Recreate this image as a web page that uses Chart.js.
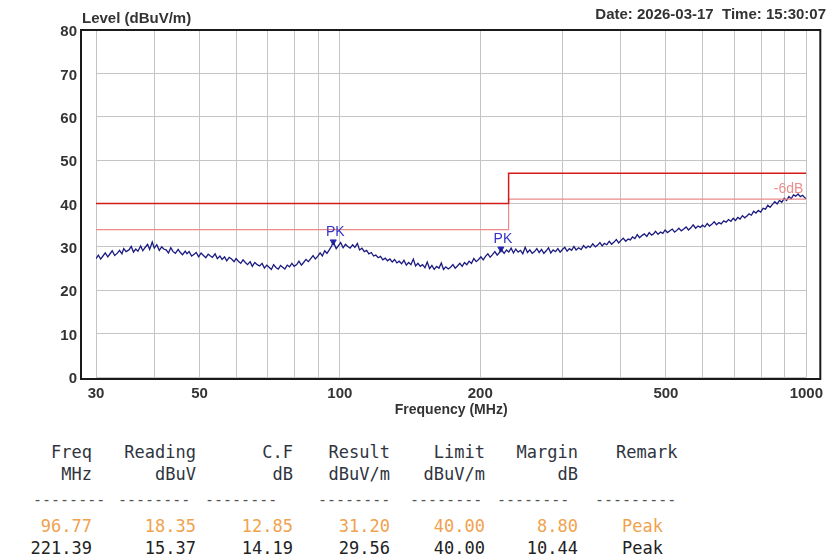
<!DOCTYPE html>
<html>
<head>
<meta charset="utf-8">
<title>Radiated emission scan</title>
<script src="https://cdn.jsdelivr.net/npm/chart.js@4.4.1/dist/chart.umd.min.js"></script>
<style>
  body { margin: 0; background: #fff; width: 831px; height: 560px; position: relative; overflow: hidden;
         font-family: "Liberation Sans", Arial, sans-serif; }
  #wrap { position: absolute; left: 0; top: 0; width: 831px; height: 420px; }
  .hdr { position: absolute; font-weight: bold; font-size: 15px; line-height: 18px; color: #333; white-space: pre; }
  .cell { position: absolute; font-family: "DejaVu Sans Mono", monospace; font-size: 17px; line-height: 20px; white-space: pre; }
  .dash { font-size: 15px; }
</style>
</head>
<body>
<div id="wrap"><canvas id="scanChart" width="831" height="420"></canvas></div>
<div class="hdr" style="left:82px; top:9px;">Level (dBuV/m)</div>
<div class="hdr" style="right:5px; top:5px;">Date: 2026-03-17  Time: 15:30:07</div>
<div id="table"></div>
<script>
// sweep frequencies (MHz) and measured level (dBuV/m)
const traceFreq = [
  30.0, 30.35, 30.7, 31.05, 31.4, 31.8, 32.1, 32.5, 32.9, 33.3,
  33.7, 34.1, 34.4, 34.8, 35.3, 35.7, 36.1, 36.5, 36.9, 37.4,
  37.8, 38.2, 38.7, 39.1, 39.6, 40.0, 40.5, 41.0, 41.5, 41.9,
  42.4, 42.9, 43.4, 43.9, 44.4, 45.0, 45.5, 46.0, 46.6, 47.0,
  47.5, 48.1, 48.7, 49.2, 49.8, 50.4, 51.0, 51.6, 52.2, 52.8,
  53.3, 54.0, 54.6, 55.3, 55.9, 56.6, 57.2, 57.9, 58.6, 59.3,
  59.9, 60.6, 61.3, 62.0, 62.7, 63.4, 64.2, 64.9, 65.7, 66.5,
  67.3, 68.1, 68.9, 69.7, 70.5, 71.3, 72.1, 73.0, 73.8, 74.6,
  75.4, 76.2, 77.1, 78.0, 78.9, 79.8, 80.8, 81.7, 82.7, 83.6,
  84.6, 85.6, 86.6, 87.6, 88.6, 89.6, 90.7, 91.7, 92.8, 93.8,
  94.9, 96.0, 96.77, 98.2, 99.3, 100.4, 101.6, 102.8, 104.0, 105.2,
  106.5, 107.7, 109.0, 110.2, 111.5, 112.8, 114.1, 115.4, 116.8, 118.1,
  119.4, 120.8, 122.2, 123.6, 125.1, 126.5, 128.0, 129.5, 131.0, 132.5,
  134.0, 135.6, 137.2, 138.8, 140.4, 142.0, 143.7, 145.3, 147.0, 148.7,
  150.4, 152.2, 153.9, 155.7, 157.5, 159.3, 161.2, 163.1, 165.0, 166.8,
  168.7, 170.7, 172.7, 174.7, 176.7, 178.7, 180.8, 182.9, 185.0, 187.1,
  189.3, 191.5, 193.7, 196.0, 198.3, 200.6, 202.9, 205.2, 207.6, 210.0,
  212.4, 214.9, 217.4, 219.9, 221.39, 225.0, 227.6, 230.2, 232.9, 235.6,
  238.3, 241.1, 243.9, 246.7, 249.6, 252.5, 255.4, 258.4, 261.4, 264.4,
  267.5, 270.6, 273.7, 276.9, 280.1, 283.3, 286.6, 289.9, 293.3, 296.6,
  300, 303.5, 307, 310.5, 314, 317.5, 321, 325, 329, 333,
  337, 340.5, 344, 348.5, 353, 357, 361, 365, 369, 373.5,
  378, 382.5, 387, 391.5, 396, 400.5, 405, 410, 415, 419.5,
  424, 429, 434, 439, 444, 449.5, 455, 460.5, 466, 470.5,
  475, 481, 487, 492.5, 498, 504, 510, 516, 522, 527.5,
  533, 539.5, 546, 552.5, 559, 565.5, 572, 579, 586, 592.5,
  599, 606, 613, 620, 627, 634.5, 642, 649.5, 657, 665,
  673, 681, 689, 697, 705, 713, 721, 729.5, 738, 746,
  754, 762.5, 771, 780, 789, 798.5, 808, 817.5, 827, 836.5,
  846, 856, 866, 876, 886, 896.5, 907, 917.5, 928, 938.5,
  949, 960, 971, 982, 993, 1000
];
const traceLevel = [
  27.3, 28.1, 27.2, 27.9, 28.6, 27.7, 28.3, 29.1, 28.0, 28.5,
  29.2, 28.4, 29.6, 28.9, 29.3, 30.1, 28.8, 29.5, 29.0, 30.2,
  29.1, 29.8, 30.6, 29.4, 31.1, 29.7, 30.5, 29.2, 30.0, 29.5,
  29.3, 28.6, 29.8, 28.9, 28.5, 29.4, 28.7, 28.2, 29.0, 28.4,
  28.9, 27.9, 28.3, 28.7, 27.7, 28.6, 28.0, 27.5, 28.3, 27.9,
  27.6, 28.4, 27.3, 27.9, 27.1, 27.7, 26.8, 27.6, 27.2, 26.6,
  27.3, 26.7, 26.2, 27.0, 26.4, 25.9, 26.6, 25.5, 26.4, 25.9,
  25.6, 26.2, 25.1, 25.8, 25.3, 24.8, 25.9, 25.2, 24.9, 25.7,
  25.3, 24.9, 25.8, 25.4, 26.2, 25.5, 25.9, 26.7, 25.8, 26.4,
  27.1, 26.6, 27.3, 28.0, 27.2, 27.8, 28.6, 27.9, 29.1, 28.5,
  29.3, 30.2, 31.2, 29.6, 30.3, 31.0, 29.8, 30.6, 30.1, 29.7,
  30.5, 29.9, 30.8, 29.3, 29.7, 28.9, 29.2, 28.4, 28.7, 27.9,
  28.1, 27.5, 27.8, 27.0, 27.4, 26.8, 27.2, 26.5, 27.1, 26.3,
  26.7, 26.1, 26.9, 25.8, 26.4, 25.9, 27.2, 25.6, 26.2, 25.5,
  25.9, 25.2, 26.5, 25.0, 25.7, 24.8, 25.5, 25.1, 26.3, 24.8,
  25.4, 24.9, 25.3, 25.9, 25.1, 25.6, 26.2, 25.5, 26.4, 25.9,
  26.7, 26.2, 27.3, 26.6, 27.1, 27.7, 27.0, 27.8, 28.4, 27.6,
  28.2, 28.9, 28.1, 28.7, 29.56, 28.5, 29.3, 28.8, 29.7, 28.6,
  29.5, 28.8, 29.2, 28.4, 29.9, 28.7, 29.3, 28.5, 28.9, 29.6,
  28.7, 29.4, 28.5, 29.1, 29.8, 28.6, 29.3, 28.9, 29.6, 28.8,
  29.4, 29.9, 29.0, 29.6, 29.2, 30.1, 29.3, 29.8, 29.4, 30.3,
  29.7, 30.2, 29.9, 30.7, 30.0, 30.4, 31.0, 30.2, 30.8, 30.5,
  31.3, 30.6, 31.1, 31.7, 30.9, 31.5, 32.0, 31.3, 31.8, 31.6,
  32.3, 31.9, 32.8, 32.1, 32.6, 33.0, 32.4, 33.3, 32.7, 33.0,
  33.6, 32.9, 33.4, 33.1, 33.9, 33.3, 33.7, 34.1, 33.4, 33.8,
  34.3, 33.7, 34.1, 34.6, 33.9, 34.4, 35.1, 34.3, 34.8, 34.5,
  35.0, 34.6, 35.4, 34.8, 35.2, 35.8, 35.1, 35.6, 35.3, 36.0,
  35.7, 36.3, 35.9, 36.6, 36.1, 36.8, 36.4, 37.2, 36.7, 37.1,
  37.6, 37.3, 38.2, 37.8, 38.4, 38.0, 38.9, 38.7, 39.6, 39.1,
  39.8, 40.4, 39.9, 40.7, 40.3, 41.2, 40.7, 41.6, 41.1, 42.0,
  41.7, 42.2, 41.6, 41.9, 41.3, 41.1
];

// limit line (class B, 3 m) and the -6 dB margin line
const limitFreq = [30, 230, 230, 1000];
const limitLevel = [40, 40, 47, 47];
const marginLevel = [34, 34, 41, 41];

// final peak list
const peakFreq = [96.77, 221.39];
const peakReading = [18.35, 15.37];
const peakCF = [12.85, 14.19];
const peakResult = [31.20, 29.56];
const peakLimit = [40.00, 40.00];
const peakMargin = [8.80, 10.44];
const peakRemark = ['Peak', 'Peak'];

// axes
const xGrid = [30, 40, 50, 60, 70, 80, 90, 100, 200, 300, 400, 500, 600, 700, 800, 900, 1000];
const xLabels = [30, 50, 100, 200, 500, 1000];
const yTicks = [0, 10, 20, 30, 40, 50, 60, 70, 80];

const axisFont = { family: '"Liberation Sans", Arial, sans-serif', size: 15, weight: 'bold' };

const pts = (xs, ys) => xs.map((x, i) => ({ x: x, y: ys[i] }));

// outer frame + text marks
const framePlugin = {
  id: 'frame',
  afterDraw(chart) {
    const ctx = chart.ctx;
    const { left, right, top, bottom } = chart.chartArea;
    const xs = chart.scales.x, ys = chart.scales.y;
    ctx.save();
    ctx.strokeStyle = '#1a1a1a';
    ctx.lineWidth = 2;
    ctx.strokeRect(left - 15, top, right - left + 29, bottom - top + 2);

    ctx.font = '14px "Liberation Sans", Arial, sans-serif';
    ctx.textAlign = 'center';
    ctx.textBaseline = 'bottom';
    ctx.fillStyle = '#3434c4';
    peakFreq.forEach((f, i) => {
      ctx.fillText('PK', xs.getPixelForValue(f) + 2, ys.getPixelForValue(peakResult[i]) - 3);
    });

    ctx.textAlign = 'right';
    ctx.fillStyle = '#ea8e8e';
    ctx.fillText('-6dB', xs.getPixelForValue(1000) - 3, ys.getPixelForValue(marginLevel[3]) - 3);
    ctx.restore();
  }
};

const ctx = document.getElementById('scanChart').getContext('2d');
const scanChart = new Chart(ctx, {
  type: 'line',
  data: {
    datasets: [
      { label: 'Limit', data: pts(limitFreq, limitLevel), borderColor: '#d21a1a', borderWidth: 1.5, pointRadius: 0 },
      { label: 'Limit -6dB', data: pts(limitFreq, marginLevel), borderColor: '#ec8a8a', borderWidth: 1.2, pointRadius: 0 },
      { label: 'Level', data: pts(traceFreq, traceLevel), borderColor: '#1a1a80', borderWidth: 1.3, pointRadius: 0 },
      { label: 'PK', data: pts(peakFreq, peakResult), showLine: false, pointStyle: 'triangle', rotation: 180,
        pointRadius: 3.5, backgroundColor: '#2a2ab8', borderColor: '#2a2ab8' }
    ]
  },
  options: {
    responsive: false,
    animation: false,
    layout: { padding: { left: 0, top: 30, right: 22, bottom: 0 } },
    plugins: { legend: { display: false }, tooltip: { enabled: false } },
    scales: {
      x: {
        type: 'logarithmic', min: 30, max: 1000,
        afterBuildTicks: s => { s.ticks = xGrid.map(v => ({ value: v })); },
        afterFit: s => { s.height = 43; },
        ticks: {
          autoSkip: false, maxRotation: 0, padding: 8, color: '#333', font: axisFont,
          callback: v => xLabels.includes(v) ? String(v) : ''
        },
        grid: { color: '#c4c4c4', lineWidth: 1, drawTicks: false },
        border: { display: false },
        title: { display: true, text: 'Frequency (MHz)', color: '#333',
                 font: { family: axisFont.family, size: 14, weight: 'bold' }, padding: { top: 0, bottom: 1 } }
      },
      y: {
        min: 0, max: 80,
        afterBuildTicks: s => { s.ticks = yTicks.map(v => ({ value: v })); },
        afterFit: s => { s.width = 96; },
        ticks: { padding: 19, labelOffset: 2, color: '#333', font: axisFont },
        grid: { color: '#c4c4c4', lineWidth: 1, drawTicks: false },
        border: { display: false }
      }
    }
  },
  plugins: [framePlugin]
});

// result table under the plot
const table = document.getElementById('table');
const colRight = [92, 196, 293, 390, 485, 578];
const remarkLeft = [616, 622];
const rowMid = [452, 474, 500, 526, 548];
const dashLeft = [33, 118, 205, 318, 410, 497, 595];
const head1 = ['Freq', 'Reading', 'C.F', 'Result', 'Limit', 'Margin'];
const head2 = ['MHz', 'dBuV', 'dB', 'dBuV/m', 'dBuV/m', 'dB'];
const rowColor = ['#f0a24e', '#222'];

function cell(text, y, color, right, left, extra) {
  const d = document.createElement('div');
  d.className = 'cell' + (extra ? ' ' + extra : '');
  d.textContent = text;
  d.style.top = (y - 10) + 'px';
  d.style.color = color;
  if (right !== null) d.style.right = (831 - right) + 'px';
  else d.style.left = left + 'px';
  table.appendChild(d);
}

head1.forEach((t, i) => cell(t, rowMid[0], '#2f3540', colRight[i], null));
cell('Remark', rowMid[0], '#2f3540', null, remarkLeft[0]);
head2.forEach((t, i) => cell(t, rowMid[1], '#2f3540', colRight[i], null));
dashLeft.forEach((x, i) => cell(i === 6 ? '---------' : '--------', rowMid[2], '#555', null, x, 'dash'));

peakFreq.forEach((f, r) => {
  const vals = [f, peakReading[r], peakCF[r], peakResult[r], peakLimit[r], peakMargin[r]].map(v => v.toFixed(2));
  vals.forEach((t, i) => cell(t, rowMid[3 + r], rowColor[r], colRight[i], null));
  cell(peakRemark[r], rowMid[3 + r], rowColor[r], null, remarkLeft[1]);
});
</script>
</body>
</html>
